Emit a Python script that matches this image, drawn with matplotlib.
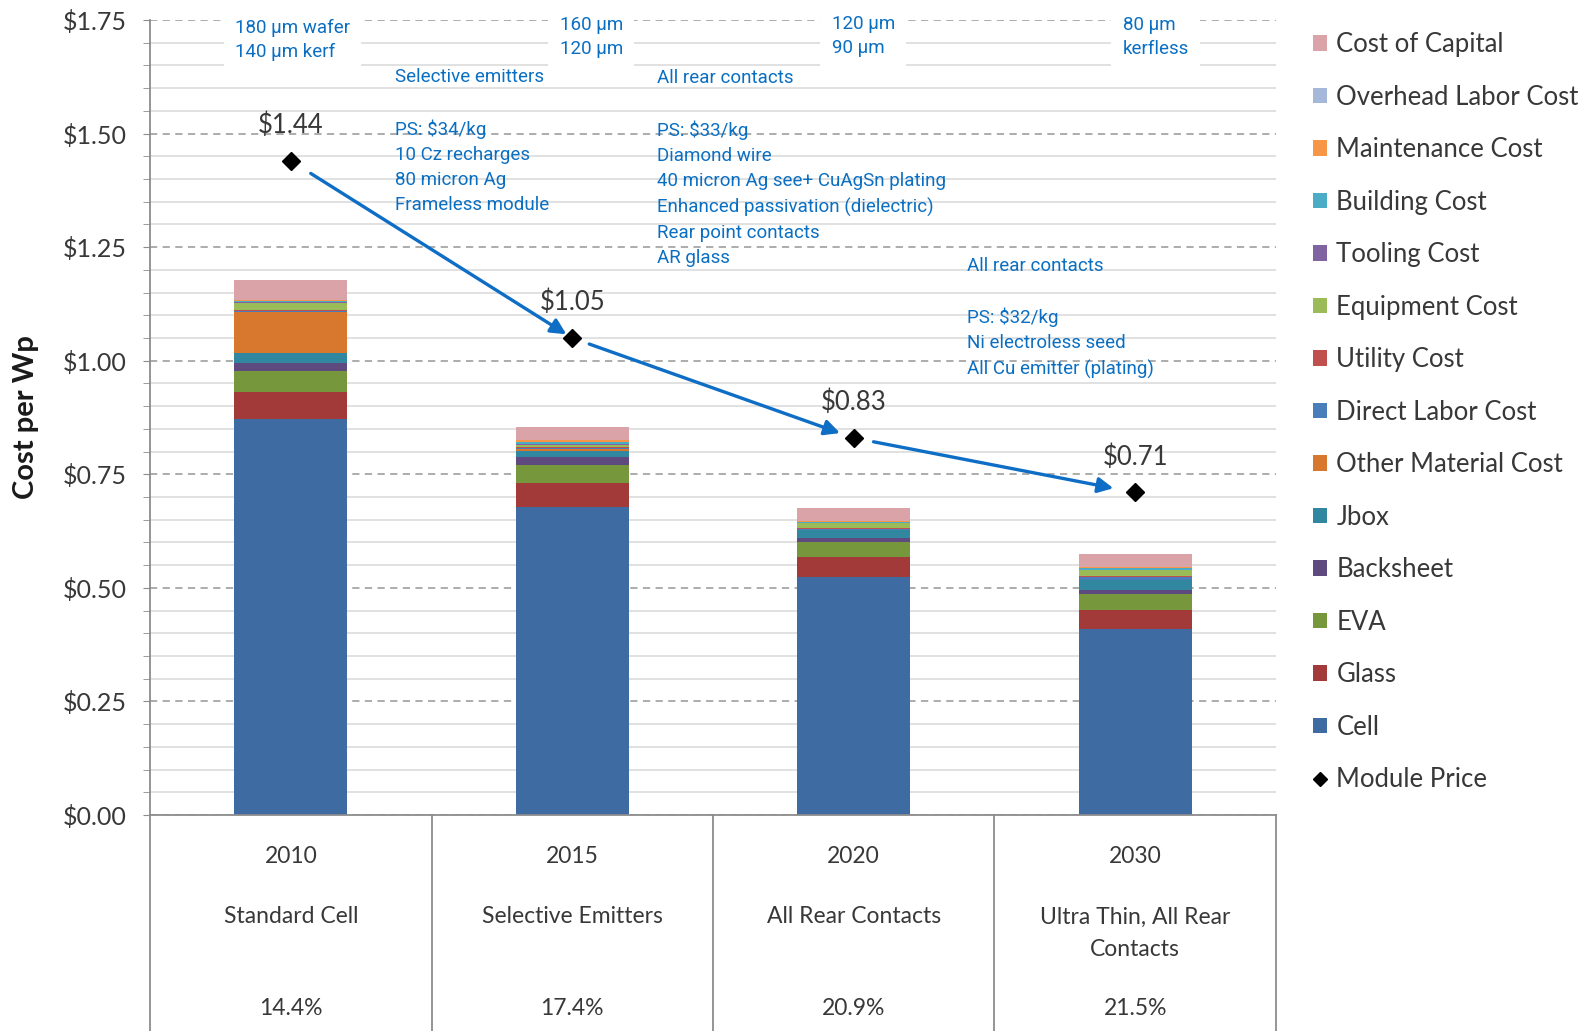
import matplotlib
matplotlib.use("Agg")
import matplotlib.pyplot as plt
from matplotlib.patches import Patch
from matplotlib.lines import Line2D
from matplotlib.ticker import MultipleLocator, FuncFormatter

# ------------------------------------------------------------
# DATA  (cost per Wp, $)
# ------------------------------------------------------------

years       = ["2010", "2015", "2020", "2030"]
scenarios   = ["Standard Cell", "Selective Emitters", "All Rear Contacts",
               "Ultra Thin, All Rear\nContacts"]
efficiency  = ["14.4%", "17.4%", "20.9%", "21.5%"]

module_price = [1.44, 1.05, 0.83, 0.71]

# stack order, bottom -> top
cell        = [0.872, 0.679, 0.525, 0.410]
glass       = [0.060, 0.052, 0.044, 0.042]
eva         = [0.046, 0.040, 0.033, 0.035]
backsheet   = [0.018, 0.018, 0.007, 0.009]
jbox        = [0.020, 0.012, 0.018, 0.022]
other_mat   = [0.091, 0.004, 0.000, 0.000]
direct_lab  = [0.003, 0.002, 0.002, 0.006]
utility     = [0.002, 0.002, 0.002, 0.002]
equipment   = [0.016, 0.006, 0.011, 0.013]
tooling     = [0.002, 0.002, 0.001, 0.001]
building    = [0.002, 0.003, 0.002, 0.003]
maintenance = [0.002, 0.005, 0.002, 0.002]
overhead    = [0.000, 0.000, 0.000, 0.000]
capital     = [0.044, 0.030, 0.029, 0.029]

components = [
    ("Cell",                cell,        "#3F6BA3"),
    ("Glass",               glass,       "#A33A3A"),
    ("EVA",                 eva,         "#77973D"),
    ("Backsheet",           backsheet,   "#5F4A7F"),
    ("Jbox",                jbox,        "#3186A0"),
    ("Other Material Cost", other_mat,   "#D8772E"),
    ("Direct Labor Cost",   direct_lab,  "#4A7EBB"),
    ("Utility Cost",        utility,     "#C0504D"),
    ("Equipment Cost",      equipment,   "#9BBB59"),
    ("Tooling Cost",        tooling,     "#8064A2"),
    ("Building Cost",       building,    "#4BACC6"),
    ("Maintenance Cost",    maintenance, "#F79646"),
    ("Overhead Labor Cost", overhead,    "#A5B8D9"),
    ("Cost of Capital",     capital,     "#D9A3A8"),
]

# technology notes (text, x, y)
top_notes = [
    ("180 \u03bcm wafer\n140 \u03bcm kerf", -0.198, 1.706),
    ("160 \u03bcm\n120 \u03bcm",             0.955, 1.713),
    ("120 \u03bcm\n90 \u03bcm",              1.921, 1.715),
    ("80 \u03bcm\nkerfless",                 2.955, 1.713),
]
notes = [
    ("Selective emitters", 0.371, 1.624),
    ("PS: $34/kg\n10 Cz recharges\n80 micron Ag\nFrameless module", 0.371, 1.426),
    ("All rear contacts", 1.301, 1.622),
    ("PS: $33/kg\nDiamond wire\n40 micron Ag see+ CuAgSn plating\n"
     "Enhanced passivation (dielectric)\nRear point contacts\nAR glass", 1.301, 1.368),
    ("All rear contacts", 2.404, 1.208),
    ("PS: $32/kg\nNi electroless seed\nAll Cu emitter (plating)", 2.404, 1.038),
]

# ------------------------------------------------------------
# STYLE
# ------------------------------------------------------------

GRAY_TXT = "#383838"
BLUE_TXT = "#0A6FC2"
NARROW   = ["Roboto", "DejaVu Sans"]
plt.rcParams["font.family"] = ["Lato", "DejaVu Sans"]

fig = plt.figure(figsize=(15.85, 10.31), dpi=100)
ax = fig.add_axes([150 / 1585, 216 / 1031, 1126 / 1585, 795 / 1031])

x = list(range(len(years)))
bottom = [0.0] * len(years)
for name, vals, color in components:
    ax.bar(x, vals, width=0.4, bottom=bottom, color=color,
           linewidth=0, label=name, zorder=2)
    bottom = [b + v for b, v in zip(bottom, vals)]

ax.plot(x, module_price, linestyle="none", marker="D", markersize=9,
        color="black", zorder=4, label="Module Price")

for xi, p in zip(x, module_price):
    ax.annotate(f"${p:.2f}", (xi, p), xytext=(0, 25.5),
                textcoords="offset points", ha="center", va="center",
                fontsize=18.5, color=GRAY_TXT, zorder=5)

# arrows between successive price points
shrinks = [(17, 5), (13, 10.5), (14.5, 16)]
for i, (sa, sb) in enumerate(shrinks):
    ax.annotate("", xy=(x[i + 1], module_price[i + 1]),
                xytext=(x[i], module_price[i]),
                arrowprops=dict(arrowstyle="-|>", color="#0E6DC4", lw=2.4,
                                mutation_scale=23, shrinkA=sa, shrinkB=sb),
                zorder=3)

# notes
for txt, tx, ty in top_notes:
    ax.text(tx, ty, txt, ha="left", va="center", fontsize=13.5,
            color=BLUE_TXT, family=NARROW, linespacing=1.45, zorder=3,
            bbox=dict(boxstyle="square,pad=0.6", facecolor="white",
                      edgecolor="none"))
for txt, tx, ty in notes:
    ax.text(tx, ty, txt, ha="left", va="center", fontsize=13.5,
            color=BLUE_TXT, family=NARROW, linespacing=1.5, zorder=3)

# axes
ax.set_xlim(-0.5, 3.5)
ax.set_ylim(0, 1.75)
ax.yaxis.set_major_locator(MultipleLocator(0.25))
ax.yaxis.set_minor_locator(MultipleLocator(0.05))
ax.yaxis.set_major_formatter(FuncFormatter(lambda v, _: f"${v:.2f}"))
ax.grid(which="major", axis="y", color="#A6A6A6", linestyle=(0, (4, 3)),
        linewidth=1.3)
ax.grid(which="minor", axis="y", color="#DCDCDC", linestyle="-",
        linewidth=1.2)
ax.set_axisbelow(True)
ax.tick_params(axis="y", which="both", direction="out", length=5,
               color="#8C8C8C", labelsize=18, labelcolor=GRAY_TXT, pad=12)
ax.tick_params(axis="x", which="both", bottom=False, labelbottom=False)
for s in ("top", "right"):
    ax.spines[s].set_visible(False)
for s in ("left", "bottom"):
    ax.spines[s].set_color("#8C8C8C")
    ax.spines[s].set_linewidth(1.3)

ax.set_ylabel("Cost per Wp", fontsize=21, fontweight="bold", color="#1A1A1A",
              labelpad=17)

# category table under the axis
trans = ax.get_xaxis_transform()
for bx in [-0.5, 0.5, 1.5, 2.5, 3.5]:
    ax.add_line(Line2D([bx, bx], [0, -0.4], transform=trans, color="#8C8C8C",
                       linewidth=1.3, clip_on=False))
for xi, yr, sc, ef in zip(x, years, scenarios, efficiency):
    ax.text(xi, -0.052, yr, transform=trans, ha="center", va="center",
            fontsize=16.5, color=GRAY_TXT)
    ax.text(xi, -0.115, sc, transform=trans, ha="center", va="top",
            fontsize=16.5, color=GRAY_TXT, linespacing=1.7)
    ax.text(xi, -0.244, ef, transform=trans, ha="center", va="center",
            fontsize=16.5, color=GRAY_TXT)

# legend: top of stack first, then the price marker
handles = [Patch(facecolor=c, edgecolor="none") for _, _, c in components[::-1]]
labels = [n for n, _, _ in components[::-1]]
handles.append(Line2D([], [], linestyle="none", marker="D", markersize=7,
                      color="black"))
labels.append("Module Price")
leg = fig.legend(handles, labels, loc="upper left",
                 bbox_to_anchor=(1303 / 1585, 1 - 22 / 1031), frameon=False,
                 fontsize=18.5, handlelength=0.55, handleheight=0.55,
                 handletextpad=0.35, labelspacing=1.07, borderaxespad=0)
for t in leg.get_texts():
    t.set_color(GRAY_TXT)

fig.savefig("out.png", dpi=100)
